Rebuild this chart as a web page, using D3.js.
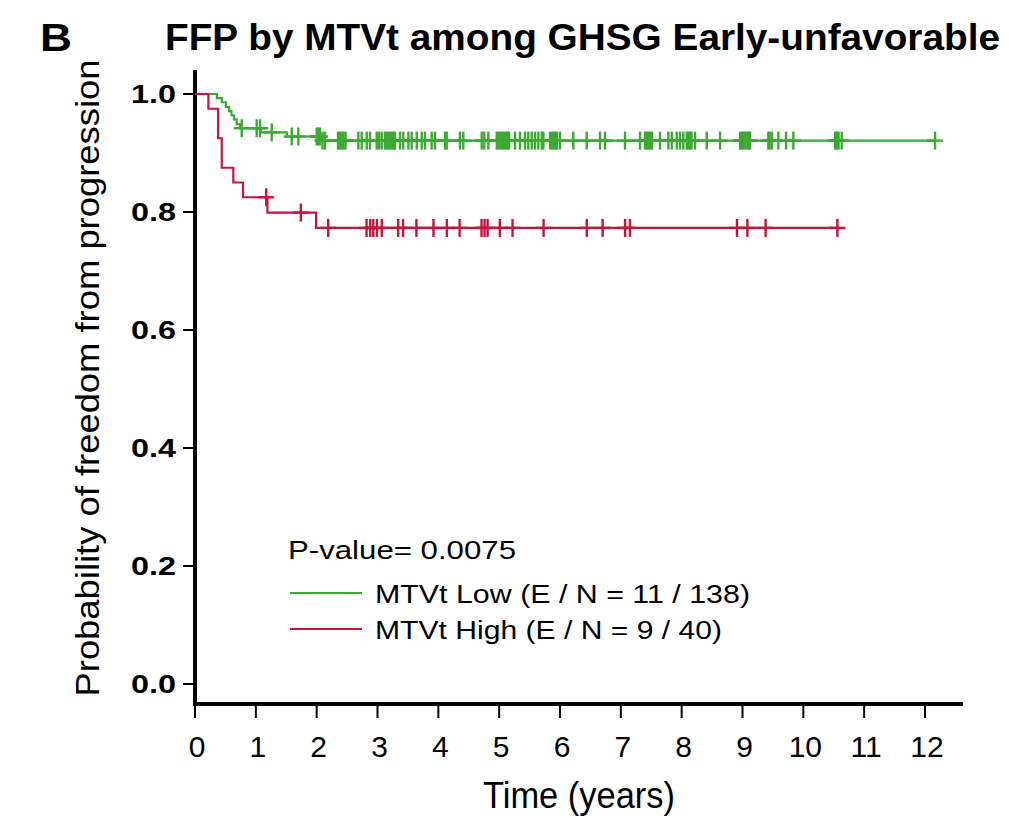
<!DOCTYPE html>
<html>
<head>
<meta charset="utf-8">
<script src="https://cdn.jsdelivr.net/npm/d3@7"></script>
<style>
  body { margin: 0; background: #fff; }
  text { font-family: "Liberation Sans Narrow", "Liberation Sans", Arial, sans-serif; fill: #000; }
</style>
</head>
<body>
<div id="chart"></div>
<script>
// event times (years) and survival after each event
let lowEventTimes = [0.36, 0.44, 0.51, 0.56, 0.60, 0.64, 0.685, 0.74, 1.085, 1.51, 2.09]
let lowEventSurv = [0.993, 0.986, 0.978, 0.971, 0.964, 0.957, 0.949, 0.942, 0.935, 0.928, 0.921]
let lowCensor = [
  0.768, 1.014, 1.069, 1.261, 1.59, 1.698, 2.001, 2.027, 2.055, 2.096, 2.137,
  2.351, 2.38, 2.41, 2.44, 2.474, 2.685, 2.74, 2.823, 2.877, 2.987, 3.025, 3.069,
  3.123, 3.15, 3.18, 3.21, 3.24, 3.27, 3.288, 3.37, 3.424, 3.507, 3.562, 3.645, 3.727,
  3.781, 3.891, 3.946, 4.11, 4.138, 4.356, 4.411, 4.713, 4.756, 4.822, 4.96,
  4.99, 5.02, 5.05, 5.08, 5.11, 5.14, 5.162, 5.261, 5.343, 5.425, 5.479, 5.535, 5.59,
  5.644, 5.7, 5.726, 5.836, 5.87, 5.9, 5.93, 5.951, 6.0, 6.219, 6.439, 6.658,
  6.74, 7.069, 7.316, 7.398, 7.43, 7.46, 7.49, 7.513, 7.644, 7.781, 7.837, 7.919,
  7.973, 8.027, 8.083, 8.11, 8.14, 8.162, 8.22, 8.412, 8.631, 8.96, 8.99, 9.02, 9.05,
  9.08, 9.11, 9.124, 9.425, 9.445, 9.481, 9.589, 9.716, 9.836, 10.521, 10.55, 10.579,
  10.631, 12.165
]
let highEventTimes = [0.22, 0.38, 0.44, 0.63, 0.79, 1.19, 1.99]
let highEventSurv = [0.975, 0.925, 0.875, 0.85, 0.825, 0.799, 0.773]
let highCensor = [
  1.17, 1.74, 2.19, 2.82, 2.88, 2.93, 2.99, 3.07, 3.34, 3.42, 3.64, 3.92,
  4.14, 4.35, 4.71, 4.76, 4.81, 5.01, 5.22, 5.73, 6.44, 6.7, 7.07, 7.15,
  8.91, 9.08, 9.38, 10.56
]
let xTicks = [0, 1, 2, 3, 4, 5, 6, 7, 8, 9, 10, 11, 12]
let yTicks = [0, 0.2, 0.4, 0.6, 0.8, 1.0]
let legendLabels = ['MTVt Low (E / N = 11 / 138)', 'MTVt High (E / N = 9 / 40)']
let pValueLabel = 'P-value= 0.0075'

let width = 1009
let height = 818
let green = '#3da935'
let red = '#c8143c'

let svg = d3.select('#chart').append('svg')
  .attr('width', width)
  .attr('height', height)

let x = d3.scaleLinear().domain([0, 12]).range([195, 925])
let y = d3.scaleLinear().domain([0, 1]).range([684, 94])
let axisY = 704

// titles
svg.append('text').attr('x', 40).attr('y', 51)
  .style('font-family', '"Liberation Sans", Arial, sans-serif')
  .style('font-weight', 'bold').style('font-size', '38px')
  .attr('textLength', 32).attr('lengthAdjust', 'spacingAndGlyphs')
  .text('B')
svg.append('text').attr('x', 165).attr('y', 50)
  .style('font-family', '"Liberation Sans", Arial, sans-serif')
  .style('font-weight', 'bold').style('font-size', '36px')
  .attr('textLength', 835).attr('lengthAdjust', 'spacingAndGlyphs')
  .text('FFP by MTVt among GHSG Early-unfavorable')

// axes
svg.append('line').attr('x1', x(0)).attr('x2', x(0))
  .attr('y1', 70).attr('y2', axisY + 2)
  .attr('stroke', '#000').attr('stroke-width', 4)
svg.append('line').attr('x1', x(0) - 2).attr('x2', 963)
  .attr('y1', axisY).attr('y2', axisY)
  .attr('stroke', '#000').attr('stroke-width', 4)

let yAxis = svg.append('g')
yAxis.selectAll('line').data(yTicks).enter().append('line')
  .attr('x1', x(0) - 12).attr('x2', x(0))
  .attr('y1', d => y(d)).attr('y2', d => y(d))
  .attr('stroke', '#000').attr('stroke-width', 2)
yAxis.selectAll('text').data(yTicks).enter().append('text')
  .attr('x', 131).attr('y', d => y(d) + 9)
  .style('font-family', '"Liberation Sans", Arial, sans-serif')
  .style('font-size', '26px').style('font-weight', 'bold')
  .attr('textLength', 45).attr('lengthAdjust', 'spacingAndGlyphs')
  .text(d => d3.format('.1f')(d))

let xAxis = svg.append('g')
xAxis.selectAll('line').data(xTicks).enter().append('line')
  .attr('x1', d => x(d)).attr('x2', d => x(d))
  .attr('y1', axisY).attr('y2', axisY + 14)
  .attr('stroke', '#000').attr('stroke-width', 2)
xAxis.selectAll('text').data(xTicks).enter().append('text')
  .attr('x', d => x(d) + 2).attr('y', 757)
  .attr('text-anchor', 'middle')
  .style('font-size', '30px')
  .text(d => d)

svg.append('text').attr('x', 579).attr('y', 808)
  .attr('text-anchor', 'middle').style('font-size', '36px')
  .attr('textLength', 192).attr('lengthAdjust', 'spacingAndGlyphs')
  .text('Time (years)')
svg.append('text')
  .attr('transform', 'translate(99,378)rotate(-90)')
  .attr('text-anchor', 'middle').style('font-size', '33px')
  .attr('textLength', 637).attr('lengthAdjust', 'spacingAndGlyphs')
  .text('Probability of freedom from progression')

// survival curves
let groups = [
  { times: lowEventTimes, surv: lowEventSurv, censor: lowCensor, color: green },
  { times: highEventTimes, surv: highEventSurv, censor: highCensor, color: red }
]

let line = d3.line()
  .x(d => x(d[0]))
  .y(d => y(d[1]))
  .curve(d3.curveStepAfter)

groups.forEach(g => {
  let survAt = t => {
    let i = d3.bisectRight(g.times, t)
    return i === 0 ? 1 : g.surv[i - 1]
  }
  let end = d3.max(g.censor)
  let pts = [[0, 1]]
  g.times.forEach((t, i) => pts.push([t, g.surv[i]]))
  pts.push([end, survAt(end)])

  svg.append('path').datum(pts)
    .attr('d', line)
    .attr('fill', 'none')
    .attr('stroke', g.color)
    .attr('stroke-width', 2.2)

  let marks = svg.append('g').attr('stroke', g.color).attr('stroke-width', 2.4)
  g.censor.forEach(t => {
    let cx = x(t)
    let cy = y(survAt(t))
    marks.append('line').attr('x1', cx).attr('x2', cx)
      .attr('y1', cy - 9).attr('y2', cy + 9)
    marks.append('line').attr('x1', cx - 8).attr('x2', cx + 8)
      .attr('y1', cy).attr('y2', cy)
  })
})

// legend
svg.append('text').attr('x', 288).attr('y', 559)
  .style('font-family', '"Liberation Sans", Arial, sans-serif')
  .style('font-size', '26px')
  .attr('textLength', 228).attr('lengthAdjust', 'spacingAndGlyphs')
  .text(pValueLabel)
let legendW = [375, 347]
legendLabels.forEach((label, i) => {
  let ly = 593 + i * 36
  svg.append('line').attr('x1', 290).attr('x2', 362)
    .attr('y1', ly).attr('y2', ly)
    .attr('stroke', groups[i].color).attr('stroke-width', 2)
  svg.append('text').attr('x', 375).attr('y', ly + 10)
    .style('font-family', '"Liberation Sans", Arial, sans-serif')
    .style('font-size', '26px')
    .attr('textLength', legendW[i]).attr('lengthAdjust', 'spacingAndGlyphs')
    .text(label)
})
</script>
</body>
</html>
